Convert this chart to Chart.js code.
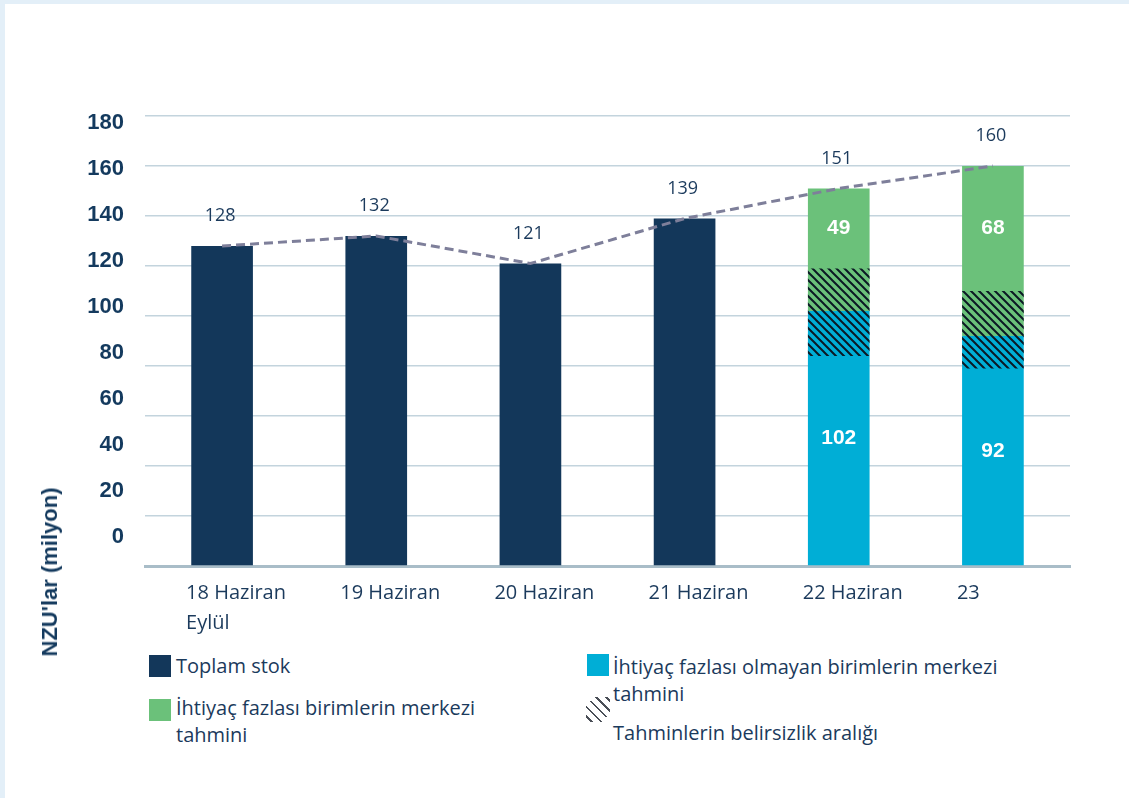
<!DOCTYPE html>
<html lang="tr">
<head>
<meta charset="utf-8">
<title>NZU stokları</title>
<script src="https://cdn.jsdelivr.net/npm/chart.js@4/dist/chart.umd.min.js"></script>
<style>
  html, body { margin: 0; padding: 0; }
  body { width: 1129px; height: 798px; background: #e3eff8; position: relative; overflow: hidden; }
  .panel { position: absolute; left: 5px; top: 4px; right: 0; bottom: 0; background: #fff; }
  #grafik { position: absolute; left: 0; top: 0; }
  .eksen-baslik {
    position: absolute; left: 50px; top: 572px;
    transform: translate(-50%, -50%) rotate(-90deg);
    font: bold 22px "Liberation Sans", Arial, sans-serif; color: #143a5e; white-space: nowrap;
  }
  .lejant { position: absolute; font: 20px "Open Sans", sans-serif; color: #1b3a5c; line-height: 27px; }
  .kutu { position: absolute; width: 22px; height: 22px; }
  .tarama {
    position: absolute; width: 24px; height: 25px;
    background: repeating-linear-gradient(45deg, transparent 0 3px, #4a4f57 3px 5px, transparent 5px 7px);
    -webkit-mask: linear-gradient(135deg, transparent 18%, #000 18% 82%, transparent 82%);
  }
</style>
</head>
<body>
<div class="panel"></div>
<canvas id="grafik" width="1129" height="650"></canvas>
<div class="eksen-baslik">NZU'lar (milyon)</div>

<!-- lejant -->
<div class="kutu" style="left:149px; top:655px; background:#13375a"></div>
<div class="lejant" style="left:176px; top:652px">Toplam stok</div>
<div class="kutu" style="left:149px; top:699px; background:#6bc17a"></div>
<div class="lejant" style="left:176px; top:694px">İhtiyaç fazlası birimlerin merkezi<br>tahmini</div>
<div class="kutu" style="left:587px; top:654px; background:#00aed6"></div>
<div class="lejant" style="left:613px; top:653px">İhtiyaç fazlası olmayan birimlerin merkezi<br>tahmini</div>
<div class="tarama" style="left:586px; top:697px"></div>
<div class="lejant" style="left:613px; top:719px">Tahminlerin belirsizlik aralığı</div>

<script>
// kategoriler ve seriler (milyon NZU)
const kategoriler = [['18 Haziran', 'Eylül'], '19 Haziran', '20 Haziran', '21 Haziran', '22 Haziran', '23'];
const toplamStok = [128, 132, 121, 139, null, null];
const fazlaOlmayan = [null, null, null, null, 102, 92];
const fazla = [null, null, null, null, 49, 68];
const belirsizlikAlt = [null, null, null, null, 84, 79];
const belirsizlikUst = [null, null, null, null, 119, 110];
const toplamCizgi = [128, 132, 121, 139, 151, 160];
const yEtiketleri = [0, 20, 40, 60, 80, 100, 120, 140, 160, 180];

const LACIVERT = '#13375a';
const CAMGOBEGI = '#00aed6';
const YESIL = '#6bc17a';
const YAZI = '#1b3a5c';

// belirsizlik aralığı için çapraz tarama
function taramaDeseni() {
  const c = document.createElement('canvas');
  c.width = 8; c.height = 8;
  const g = c.getContext('2d');
  g.strokeStyle = '#0b1824';
  g.lineWidth = 2;
  g.beginPath();
  g.moveTo(-2, -2); g.lineTo(10, 10);
  g.moveTo(-2, 6); g.lineTo(2, 10);
  g.moveTo(6, -2); g.lineTo(10, 2);
  g.stroke();
  return g.createPattern(c, 'repeat');
}

// çizgi üstü ve çubuk içi değerler
const degerEtiketleri = {
  id: 'degerEtiketleri',
  afterDatasetsDraw(chart) {
    const ctx = chart.ctx;
    const y = chart.scales.y;
    ctx.save();
    ctx.textAlign = 'center';
    ctx.textBaseline = 'middle';

    ctx.font = '18px "Open Sans", sans-serif';
    ctx.fillStyle = YAZI;
    chart.getDatasetMeta(0).data.forEach((p, i) => {
      ctx.fillText(toplamCizgi[i], p.x - 2, p.y - 30);
    });

    ctx.font = 'bold 21px "Liberation Sans", Arial, sans-serif';
    ctx.fillStyle = '#ffffff';
    const camMeta = chart.getDatasetMeta(2);
    fazlaOlmayan.forEach((v, i) => {
      if (v == null) return;
      const x = camMeta.data[i].x;
      ctx.fillText(v, x, y.getPixelForValue(v / 2));
      const ust = v + fazla[i];
      ctx.fillText(fazla[i], x, y.getPixelForValue((belirsizlikUst[i] + ust) / 2));
    });
    ctx.restore();
  }
};

const ctx = document.getElementById('grafik');

new Chart(ctx, {
  data: {
    labels: kategoriler,
    datasets: [
      {
        type: 'line',
        label: 'Toplam',
        data: toplamCizgi,
        borderColor: '#7e7f9a',
        borderWidth: 3,
        borderDash: [9, 5],
        pointRadius: 0,
        fill: false,
        order: 0
      },
      {
        type: 'bar',
        label: 'Tahminlerin belirsizlik aralığı',
        data: belirsizlikAlt.map((a, i) => a == null ? null : [a, belirsizlikUst[i]]),
        backgroundColor: taramaDeseni(),
        order: 1
      },
      {
        type: 'bar',
        label: 'İhtiyaç fazlası olmayan birimlerin merkezi tahmini',
        data: fazlaOlmayan.map(v => v == null ? null : [0, v]),
        backgroundColor: CAMGOBEGI,
        order: 2
      },
      {
        type: 'bar',
        label: 'İhtiyaç fazlası birimlerin merkezi tahmini',
        data: fazla.map((v, i) => v == null ? null : [fazlaOlmayan[i], fazlaOlmayan[i] + v]),
        backgroundColor: YESIL,
        order: 2
      },
      {
        type: 'bar',
        label: 'Toplam stok',
        data: toplamStok,
        backgroundColor: LACIVERT,
        order: 2
      }
    ]
  },
  options: {
    responsive: false,
    animation: false,
    barPercentage: 0.5,
    categoryPercentage: 0.8,
    layout: { padding: { left: 5, right: 59, top: 116, bottom: 0 } },
    plugins: {
      legend: { display: false },
      tooltip: { enabled: false }
    },
    scales: {
      x: {
        stacked: true,
        grid: { display: false, drawTicks: false },
        border: { color: '#a9bdc8', width: 3 },
        ticks: {
          align: 'start',
          labelOffset: -36,
          padding: 12,
          maxRotation: 0,
          autoSkip: false,
          color: YAZI,
          font: { family: '"Open Sans", sans-serif', size: 20, lineHeight: 1.5 }
        },
        afterFit(scale) { scale.height = 84; }
      },
      y: {
        stacked: false,
        min: 0,
        max: 180,
        position: 'left',
        ticks: { display: false, stepSize: 20 },
        grid: { color: '#c3d4dd', lineWidth: 1.5, drawTicks: false },
        border: { display: false },
        afterFit(scale) { scale.width = 0; }
      },
      // eksen etiketleri biraz sıkışık ölçekte
      yEtiket: {
        position: 'left',
        min: -12.6,
        max: 183.05,
        grid: { display: false, drawTicks: false },
        border: { display: false },
        afterBuildTicks(scale) { scale.ticks = yEtiketleri.map(v => ({ value: v })); },
        ticks: {
          padding: 21,
          color: '#143a5e',
          font: { family: '"Liberation Sans", Arial, sans-serif', size: 22, weight: 'bold' }
        },
        afterFit(scale) { scale.width = 140; }
      }
    }
  },
  plugins: [degerEtiketleri]
});
</script>
</body>
</html>
